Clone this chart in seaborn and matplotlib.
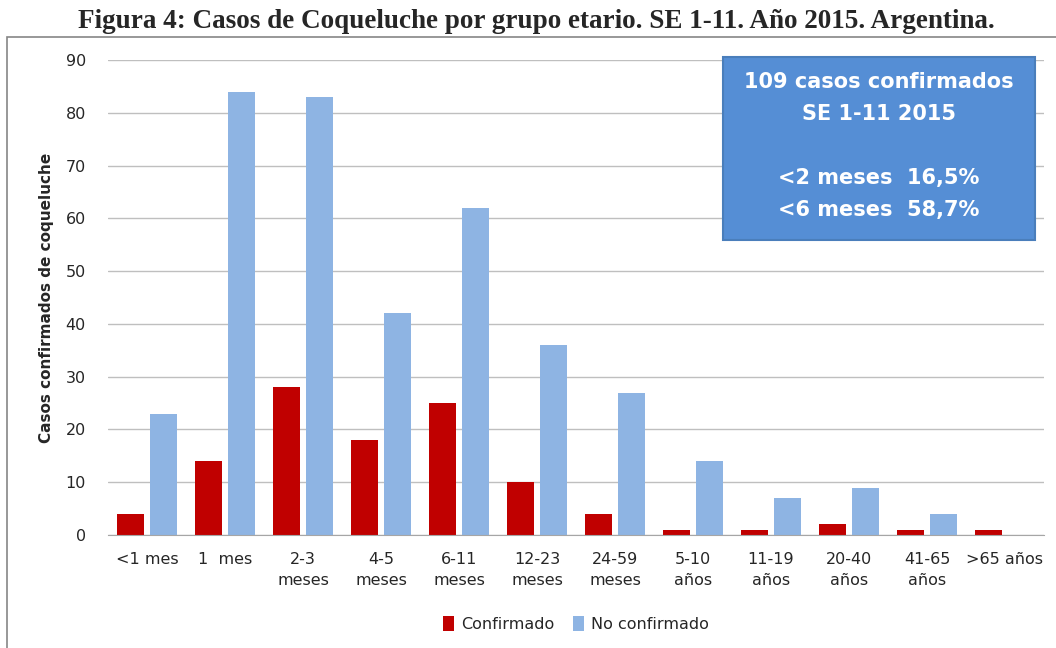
import numpy as np
import pandas as pd
import matplotlib.pyplot as plt
import seaborn as sns
from matplotlib.patches import Rectangle

# --- datos ---
grupos = ['<1 mes', '1  mes', '2-3\nmeses', '4-5\nmeses', '6-11\nmeses', '12-23\nmeses',
          '24-59\nmeses', '5-10\naños', '11-19\naños', '20-40\naños', '41-65\naños', '>65 años']
confirmado = [4, 14, 28, 18, 25, 10, 4, 1, 1, 2, 1, 1]
no_confirmado = [23, 84, 83, 42, 62, 36, 27, 14, 7, 9, 4, 0]
series = ['Confirmado', 'No confirmado']
colores = ['#C00000', '#8EB4E3']

df = pd.DataFrame({'Grupo': grupos * 2,
                   'Casos': confirmado + no_confirmado,
                   'Serie': [series[0]] * len(grupos) + [series[1]] * len(grupos)})

sns.set_style('white')
plt.rcParams['font.family'] = ['DejaVu Sans']

fig = plt.figure(figsize=(10.56, 6.48), dpi=100)
ax = fig.add_axes([108 / 1056, 1 - 535 / 648, (1044 - 108) / 1056, (535 - 60) / 648])

sns.barplot(data=df, x='Grupo', y='Casos', hue='Serie', palette=colores,
            width=0.83, gap=0.17, saturation=1, linewidth=0, ax=ax, legend=True)

ax.set_ylim(0, 90)
ax.set_yticks(range(0, 91, 10))
ax.yaxis.grid(True, color='#BFBFBF', linewidth=1)
ax.set_axisbelow(True)
for s in ['top', 'right', 'left']:
    ax.spines[s].set_visible(False)
ax.spines['bottom'].set_color('#A6A6A6')
ax.tick_params(axis='y', length=8, color='#BFBFBF', labelsize=11.5, pad=8)
ax.tick_params(axis='x', length=0, labelsize=11.5, pad=12)
for lbl in ax.get_xticklabels():
    lbl.set_linespacing(1.55)
ax.set_xlabel('')
ax.set_ylabel('Casos confirmados de coqueluche', fontsize=11, fontweight='bold', labelpad=8)

ax.legend(loc='upper center', bbox_to_anchor=(0.5, -0.14), ncol=2, frameon=False,
          fontsize=11.5, handlelength=0.7, handleheight=1.1, columnspacing=1.2, handletextpad=0.4)

# cuadro de resumen
ax.add_patch(Rectangle((0.657, 0.621), 0.333, 0.385, transform=ax.transAxes, clip_on=False,
                       facecolor='#558ED5', edgecolor='#4A7EBB', linewidth=1.5, zorder=5))
ax.text(0.8235, 0.975, '109 casos confirmados\nSE 1-11 2015\n\n<2 meses  16,5%\n<6 meses  58,7%',
        transform=ax.transAxes, ha='center', va='top', color='white', fontsize=15,
        fontweight='bold', linespacing=1.75, zorder=6)

# marco exterior
fig.patches.append(Rectangle((7 / 1056, -0.01), 1.05, 1 - 37 / 648 + 0.01,
                             transform=fig.transFigure, fill=False, edgecolor='#868686', linewidth=1.2))

fig.text(0.508, 1 - 22 / 648, 'Figura 4: Casos de Coqueluche por grupo etario. SE 1-11. Año 2015. Argentina.',
         ha='center', va='center', fontsize=19.5, fontweight='bold', family='Liberation Serif')

fig.savefig('out.png', dpi=100)
